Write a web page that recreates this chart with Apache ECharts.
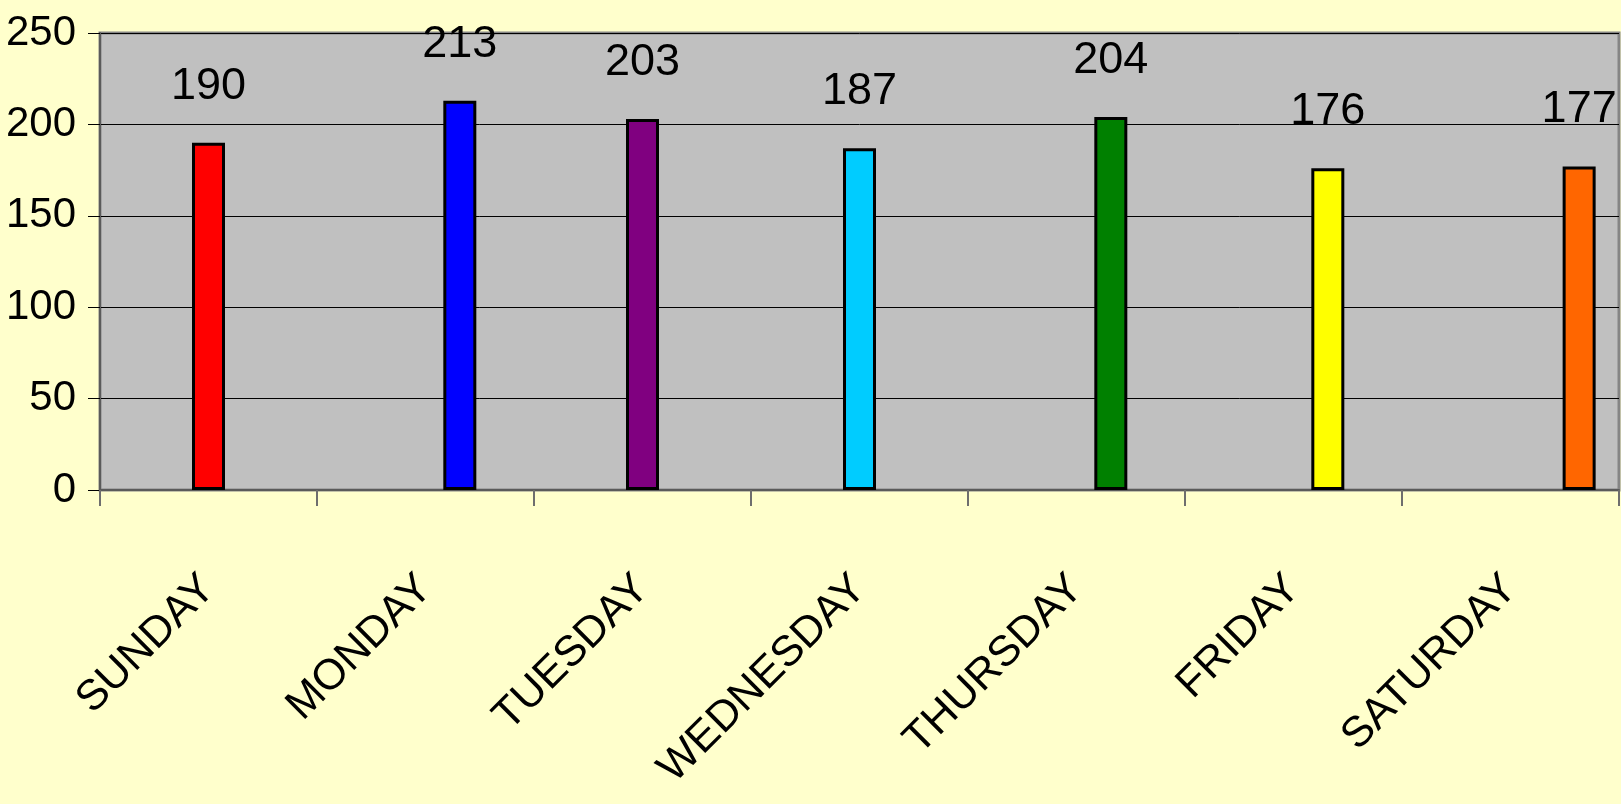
<!DOCTYPE html>
<html>
<head>
<meta charset="utf-8">
<script src="https://cdn.jsdelivr.net/npm/echarts@6/dist/echarts.min.js"></script>
<style>
  html, body { margin: 0; padding: 0; background: #ffffcc; }
  #chart { width: 1621px; height: 804px; }
</style>
</head>
<body>
<div id="chart"></div>
<script>
const days = ['SUNDAY', 'MONDAY', 'TUESDAY', 'WEDNESDAY', 'THURSDAY', 'FRIDAY', 'SATURDAY']
const counts = [190, 213, 203, 187, 204, 176, 177]
const yTicks = [0, 50, 100, 150, 200, 250]

const barColors = ['#ff0000', '#0000ff', '#800080', '#00ccff', '#008000', '#ffff00', '#ff6600']
// which series of the 5-wide cluster each day's bar belongs to (as in the original sheet)
const seriesOfDay = [2, 3, 2, 2, 3, 3, 4]

const numFont = '"Liberation Sans", Arial, sans-serif'

const chart = echarts.init(document.getElementById('chart'))

const series = [0, 1, 2, 3, 4].map((s) => {
  return {
    type: 'bar',
    barWidth: 33,
    barGap: '4%',
    data: counts.map((v, i) => {
      if (seriesOfDay[i] !== s) return '-'
      return { value: v, itemStyle: { color: barColors[i] } }
    }),
    itemStyle: { borderColor: '#000', borderWidth: 3 },
    label: {
      show: true,
      position: 'top',
      distance: 34,
      color: '#000',
      fontFamily: numFont,
      fontSize: 45
    },
    emphasis: { disabled: true }
  }
})

const option = {
  backgroundColor: '#ffffcc',
  animation: false,
  grid: {
    left: 100,
    top: 33,
    right: 2,
    bottom: 314,
    containLabel: false,
    outerBoundsMode: 'none',
    show: true,
    backgroundColor: '#c0c0c0',
    borderColor: '#858585',
    borderWidth: 3
  },
  xAxis: {
    type: 'category',
    data: days,
    boundaryGap: true,
    axisLine: { show: true, lineStyle: { color: '#5a5a5a', width: 2 } },
    axisTick: { show: true, length: 16, lineStyle: { color: '#6e6e6e', width: 2 } },
    axisLabel: {
      rotate: 45,
      interval: 0,
      margin: 92,
      color: '#000',
      fontFamily: '"Liberation Sans", Arial, sans-serif',
      fontSize: 43
    },
    splitLine: { show: false }
  },
  yAxis: {
    type: 'value',
    min: yTicks[0],
    max: yTicks[yTicks.length - 1],
    interval: yTicks[1] - yTicks[0],
    axisLine: { show: true, lineStyle: { color: '#5a5a5a', width: 2 } },
    axisTick: { show: true, length: 12, lineStyle: { color: '#000', width: 1 } },
    axisLabel: {
      margin: 24,
      color: '#000',
      fontFamily: numFont,
      fontSize: 42
    },
    splitLine: { show: true, lineStyle: { color: '#000', width: 1 } }
  },
  series: series
}

chart.setOption(option)
</script>
</body>
</html>
